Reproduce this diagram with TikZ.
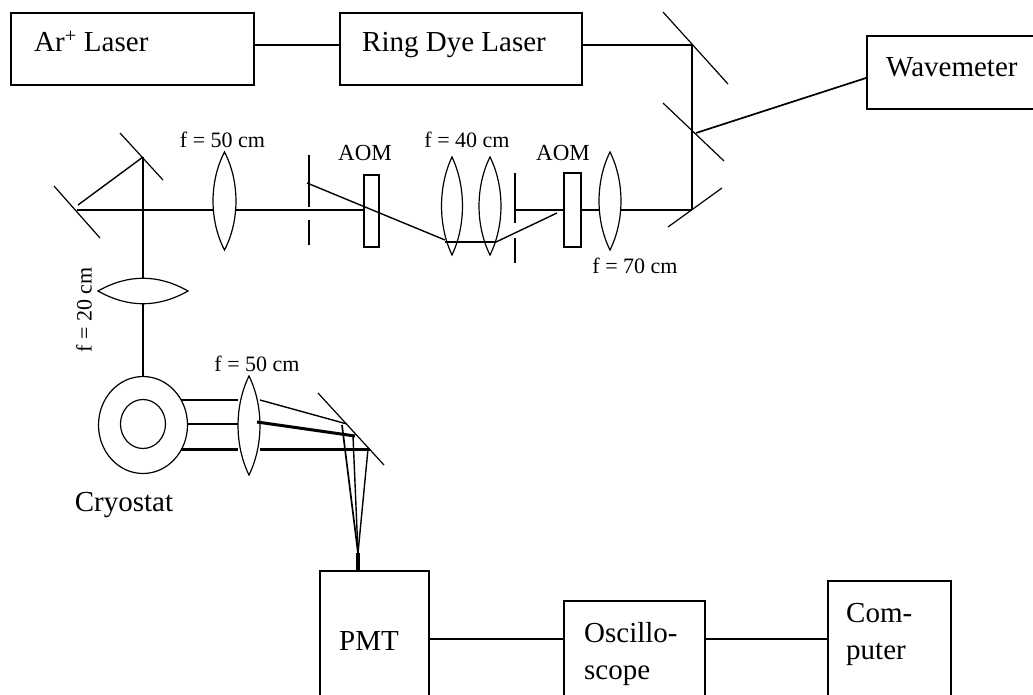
\documentclass[tikz,border=0pt]{standalone}
\usetikzlibrary{shapes.geometric}
\usepackage{fontspec}
\setmainfont{Liberation Serif}
\newcommand{\vlens}[4]{% cx, top, bottom, half width
  \draw[lensline] (#1,#2) .. controls ({#1+1.33*#4},{#2+0.3*(#3-#2)}) and ({#1+1.33*#4},{#3-0.3*(#3-#2)}) .. (#1,#3)
   .. controls ({#1-1.33*#4},{#3-0.3*(#3-#2)}) and ({#1-1.33*#4},{#2+0.3*(#3-#2)}) .. (#1,#2) -- cycle;}
\tikzset{
  box/.style={draw,line width=1.6pt,rectangle,inner sep=0pt,anchor=north west},
  beam/.style={line width=1.7pt},
  thickbeam/.style={line width=3pt},
  thinbeam/.style={line width=1.4pt},
  mirror/.style={line width=1.2pt},
  lensline/.style={line width=1.2pt},
  bigtext/.style={font=\fontsize{29}{37}\selectfont,inner sep=0pt,align=left},
  smalltext/.style={font=\fontsize{22}{22}\selectfont,inner sep=0pt},
  aomtext/.style={font=\fontsize{23}{23}\selectfont,inner sep=0pt},
}
\begin{document}
\begin{tikzpicture}[x=1pt,y=-1pt]
\useasboundingbox (0,0) rectangle (1033,695);
\clip (0,0) rectangle (1033,695);
% boxes
\node[box,minimum width=243pt,minimum height=72pt] (ar) at (10,12) {};
\node[box,minimum width=242pt,minimum height=72pt] (ring) at (339,12) {};
\node[box,minimum width=180pt,minimum height=73pt] (wave) at (866,35) {};
\node[box,minimum width=109pt,minimum height=160pt] (pmt) at (319,570) {};
\node[box,minimum width=141pt,minimum height=130pt] (osc) at (563,600) {};
\node[box,minimum width=123pt,minimum height=150pt] (comp) at (827,580) {};
\node[box,minimum width=15pt,minimum height=72pt] (aoma) at (363,174) {};
\node[box,minimum width=17pt,minimum height=74pt] (aomb) at (563,172) {};
% box texts
\node[bigtext,anchor=base west] (tar) at (34,52) {Ar\textsuperscript{+} Laser};
\node[bigtext,anchor=base west] (tring) at (362,52) {Ring Dye Laser};
\node[bigtext,anchor=base west] (twave) at (886,77) {Wavemeter};
\node[bigtext,anchor=base] (tpmt) at (369,650) {PMT};
\node[bigtext,anchor=base west] (tosa) at (584,642) {Oscillo-};
\node[bigtext,anchor=base west] (tosb) at (584,679) {scope};
\node[bigtext,anchor=base west] (tcoa) at (846,622) {Com-};
\node[bigtext,anchor=base west] (tcob) at (846,659) {puter};
\node[bigtext,anchor=base] (tcry) at (124,511) {Cryostat};
% optics labels
\node[smalltext] (fa) at (222.5,140) {f = 50 cm};
\node[smalltext] (fb) at (467,140) {f = 40 cm};
\node[smalltext] (fc) at (635,266) {f = 70 cm};
\node[smalltext] (fd) at (257,364) {f = 50 cm};
\node[smalltext,rotate=90] (fe) at (84,310) {f = 20 cm};
\node[aomtext] (la) at (365,153) {AOM};
\node[aomtext] (lb) at (563,153) {AOM};
% lenses
\vlens{224.5}{152}{250}{11.5}
\vlens{452}{157}{255}{10.5}
\vlens{490}{157}{255}{11}
\vlens{610}{152}{250}{11}
\vlens{249}{376}{475}{11}
\draw[lensline] (98,291) .. controls (128,274) and (158,274) .. (188,291)
  .. controls (158,308) and (128,308) .. (98,291) -- cycle;
% cryostat
\node[draw,line width=1.2pt,ellipse,minimum width=89pt,minimum height=97pt,inner sep=0pt] (cry) at (143,425) {};
\node[draw,line width=1.2pt,ellipse,minimum width=45pt,minimum height=49pt,inner sep=0pt] (cryin) at (143,424) {};
% named beam points
\coordinate (rowa) at (0,45);
\coordinate (rowb) at (0,639);
\coordinate (mtop) at (692,45);
\coordinate (mmid) at (692,131);
\coordinate (mbot) at (692,210);
\coordinate (wavein) at (866,78);
\coordinate (waveout) at (696,133);
\coordinate (mleft) at (77,210);
\coordinate (mup) at (143,157);
\coordinate (cross) at (143,210);
% mirrors
\draw[mirror] (663,12) -- (728,84);
\draw[mirror] (663,103) -- (724,161);
\draw[mirror] (668,227) -- (722,188);
\draw[mirror] (120,133) -- (163,180);
\draw[mirror] (54,186) -- (100,238);
\draw[mirror] (318,393) -- (384,465);
% apertures
\draw[mirror] (309,155) -- (309,207);
\draw[mirror] (309,220) -- (309,245);
\draw[mirror] (515,173) -- (515,223);
\draw[mirror] (515,238) -- (515,263);
% electronics links
\draw[beam] (ar.east |- rowa) -- (ring.west |- rowa);
\draw[beam] (ring.east |- rowa) -- (mtop);
\draw[beam] (pmt.east |- rowb) -- (osc.west |- rowb);
\draw[beam] (osc.east |- rowb) -- (comp.west |- rowb);
\draw[beam] (mtop) -- (mbot);
\draw[beam] (waveout) -- (wavein);
% beam path
\draw[beam] (mbot) -- (621,210);
\draw[beam] (599,210) -- (aomb.east |- mbot);
\draw[beam] (aomb.west |- mbot) -- (515,210);
\draw[beam] (445,242) -- (496,242);
\draw[thinbeam] (496,242) -- (557,213);
\draw[thinbeam] (307,183) -- (445,240);
\draw[beam] (aoma.west |- mbot) -- (236,210);
\draw[beam] (213,210) -- (mleft);
\draw[thinbeam] (78,205) -- (mup);
\draw[beam] (mup) -- (143,278);
\draw[beam] (143,304) -- (cry.north);
% collected fluorescence
\draw[beam] (181,400) -- (238,400);
\draw[beam] (187,424) -- (238,424);
\draw[thickbeam] (181,449.6) -- (238,449.6);
\draw[thickbeam] (260,449.6) -- (370,449.6);
\draw[thinbeam] (260,400) -- (347,424);
\draw[thickbeam] (257,422) -- (355,436);
\coordinate (focus) at (358,553);
\draw[beam] (342,425) -- (focus);
\draw[thinbeam] (353,436) -- (focus);
\draw[thinbeam] (368,449) -- (focus);
\draw[line width=3.2pt] (focus) -- (pmt.north west -| focus);
\end{tikzpicture}
\end{document}
